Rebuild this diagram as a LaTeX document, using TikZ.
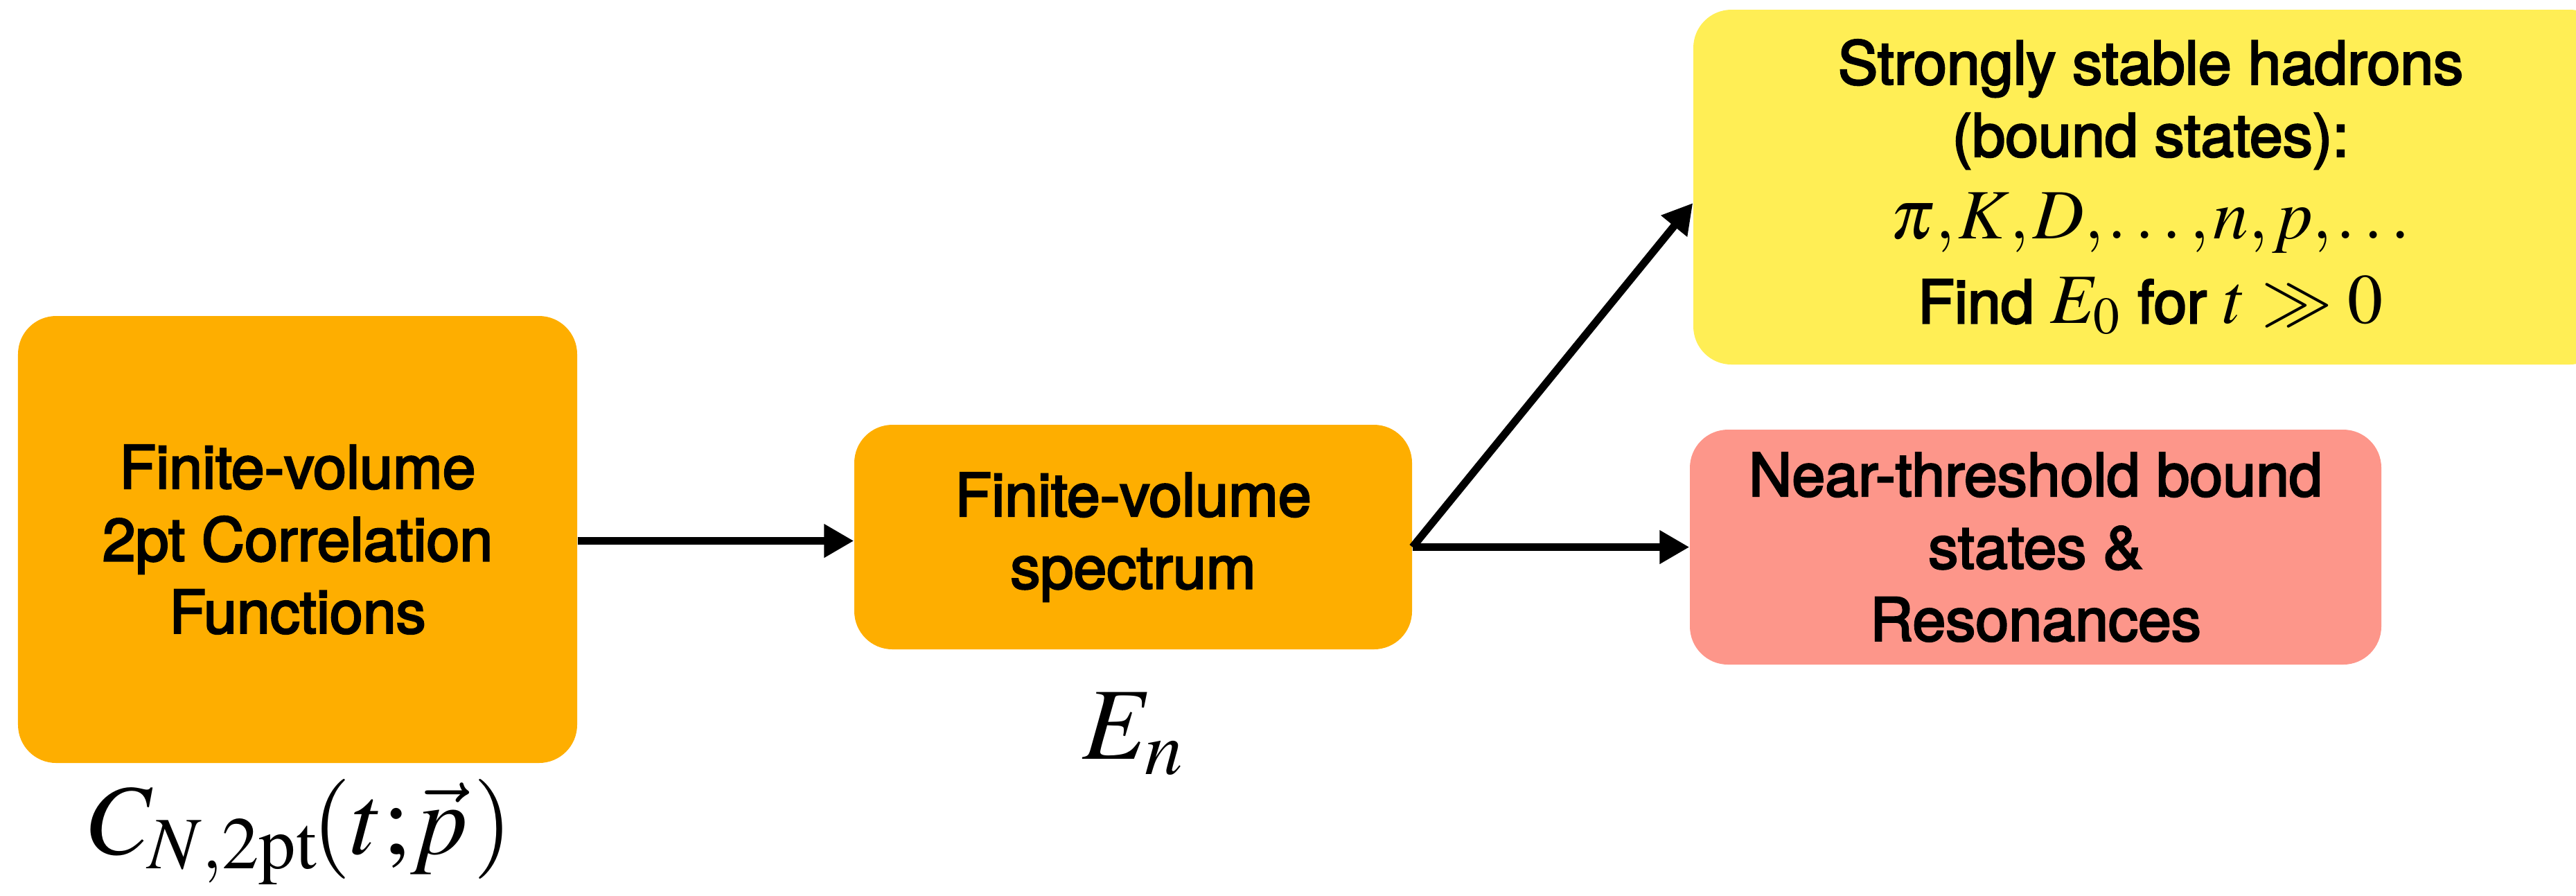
\documentclass[tikz,border=0pt]{standalone}
\usepackage{mathptmx}
\usepackage[no-math]{fontspec}
\setmainfont{TeX Gyre Heros}
\newfontfamily\stagefont{TeX Gyre Heros}[BoldFont={TeX Gyre Heros}, BoldFeatures={FakeBold=3}]
\usetikzlibrary{arrows.meta,calc}

\definecolor{boxorange}{RGB}{254,174,0}
\definecolor{boxyellow}{RGB}{255,238,85}
\definecolor{boxsalmon}{RGB}{253,150,138}

\tikzset{
  stage/.style={rounded corners=5.5mm, inner sep=0pt, align=center,
    font=\stagefont\bfseries\fontsize{24.5}{29.7}\selectfont},
  flow/.style={line width=1.1mm, -{Triangle[length=4.3mm,width=4.6mm]}},
  mathlabel/.style={inner sep=0pt, anchor=base}
}
\newcommand{\largemath}[1]{{\fontsize{29}{30}\selectfont$#1$}}
\newcommand{\tc}{,\mkern-1mu}

\begin{document}
\begin{tikzpicture}
  \path[use as bounding box, clip] (0,0) rectangle (37.18,-12.92);

  % stages of the analysis
  \node[stage, fill=boxorange, minimum width=8.07cm, minimum height=6.45cm]
    (corr) at (4.295,-7.785) {Finite-volume\\2pt Correlation\\Functions};
  \node[stage, fill=boxorange, minimum width=8.05cm, minimum height=3.24cm]
    (spec) at (16.355,-7.75) {Finite-volume\\spectrum};
  \node[stage, fill=boxyellow, minimum width=13.2cm, minimum height=5.12cm]
    (stable) at (31.04,-2.70)
    {Strongly stable hadrons\\(bound states):\\[4pt]
     \largemath{\pi\tc K\tc D\tc \ldots\tc n\tc p\tc \ldots}\\[5pt]
     Find \largemath{E_0} for \largemath{t \gg 0}};
  \node[stage, fill=boxsalmon, minimum width=9.98cm, minimum height=3.39cm]
    (reson) at (29.38,-7.895) {Near-threshold bound\\states \&\\Resonances};

  % quantities attached to the stages
  \node[mathlabel, font=\fontsize{41}{44}\selectfont] (clabel) at (4.34,-12.32)
    {$C_{N,\mathrm{2pt}}\mkern-1mu(t;\mkern-2mu\vec{p}\mkern1mu)$};
  \node[mathlabel, font=\fontsize{42}{44}\selectfont] (elabel) at (16.36,-10.95)
    {$E_n$};

  % connectors
  \coordinate (fork) at (spec.east |- reson.west);
  \draw[flow] (corr.east |- 0,-7.805) -- (spec.west |- 0,-7.805);
  \draw[flow] (fork) -- (stable.west |- 0,-2.93);
  \draw[flow] (fork) -- (reson.west);
\end{tikzpicture}
\end{document}
